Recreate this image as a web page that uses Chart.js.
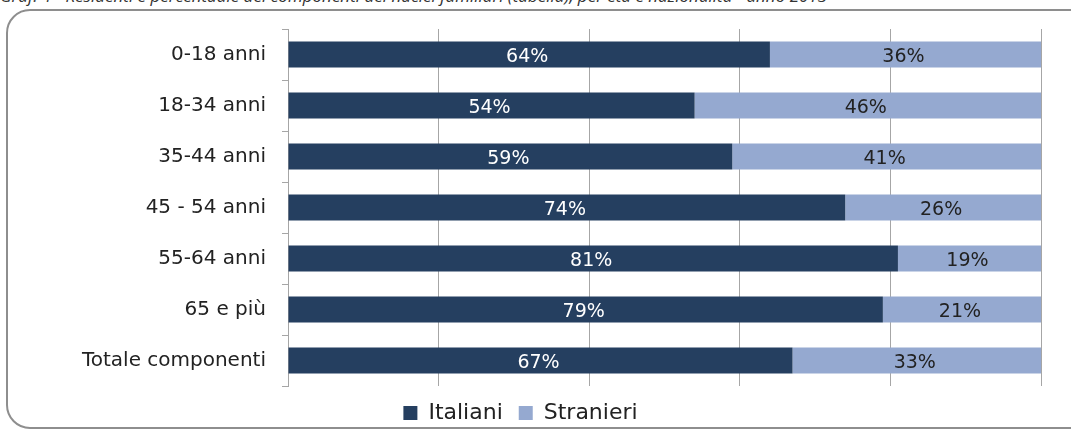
<!DOCTYPE html>
<html>
<head>
<meta charset="utf-8">
<script src="https://cdn.jsdelivr.net/npm/chart.js@4/dist/chart.umd.min.js"></script>
<style>
  html, body { margin: 0; padding: 0; background: #fff; }
  #wrap { position: relative; width: 1071px; height: 429px; overflow: hidden; }
  #frame {
    position: absolute; left: 6px; top: 9px; width: 1090px; height: 420px;
    border: 2px solid #8e8e8e; border-radius: 24px; box-sizing: border-box;
  }
  #cap {
    position: absolute; left: 0; top: -16px; white-space: nowrap;
    font: italic 17px "Open Sans", sans-serif; color: #333;
  }
  canvas { position: absolute; left: 0; top: 0; }
</style>
</head>
<body>
<div id="wrap">
  <div id="cap">Graf. 4 - Residenti e percentuale dei componenti dei nuclei familiari (tabella), per età e nazionalità - anno 2013</div>
  <div id="frame"></div>
  <canvas id="ageChart" width="1071" height="429"></canvas>
</div>
<script>
const categories = ["0-18 anni", "18-34 anni", "35-44 anni", "45 - 54 anni", "55-64 anni", "65 e più", "Totale componenti"];
const italiani = [64, 54, 59, 74, 81, 79, 67];
const stranieri = [36, 46, 41, 26, 19, 21, 33];
const xTicks = [0, 20, 40, 60, 80, 100];

// etichette percentuali al centro di ogni segmento
const barLabels = {
    id: "barLabels",
    afterDatasetsDraw(chart) {
        const ctx = chart.ctx;
        ctx.save();
        ctx.font = "19px 'DejaVu Sans'";
        ctx.textAlign = "center";
        ctx.textBaseline = "middle";
        chart.data.datasets.forEach(function (ds, i) {
            const meta = chart.getDatasetMeta(i);
            ctx.fillStyle = i === 0 ? "#ffffff" : "#222222";
            meta.data.forEach(function (bar, j) {
                const p = bar.getProps(["x", "y", "base"], true);
                ctx.fillText(ds.data[j] + "%", (p.x + p.base) / 2 - 2, p.y + 3);
            });
        });
        ctx.restore();
    }
};

document.addEventListener("DOMContentLoaded", function () {
    const ctx = document.getElementById("ageChart").getContext("2d");
    new Chart(ctx, {
        type: "bar",
        data: {
            labels: categories,
            datasets: [
                { label: "Italiani", data: italiani, backgroundColor: "#253f60", categoryPercentage: 0.51, barPercentage: 1.0 },
                { label: "Stranieri", data: stranieri, backgroundColor: "#95a9d0", categoryPercentage: 0.51, barPercentage: 1.0 }
            ]
        },
        options: {
            indexAxis: "y",
            responsive: false,
            animation: false,
            devicePixelRatio: 1,
            layout: { padding: { top: 29, right: 30, left: 0, bottom: -5 } },
            scales: {
                x: {
                    stacked: true,
                    min: 0,
                    max: 100,
                    afterBuildTicks(scale) { scale.ticks = xTicks.map(v => ({ value: v })); },
                    ticks: { display: false },
                    grid: { color: "#a6a6a6", lineWidth: 1, drawTicks: false },
                    border: { display: false }
                },
                y: {
                    stacked: true,
                    afterFit(scale) { scale.width = 288; },
                    ticks: { color: "#222222", font: { family: "DejaVu Sans", size: 20 }, padding: 16 },
                    grid: { offset: true, drawOnChartArea: false, tickLength: 6, color: "#a6a6a6" },
                    border: { color: "#a6a6a6" }
                }
            },
            plugins: {
                legend: {
                    position: "bottom",
                    labels: {
                        boxWidth: 14, boxHeight: 14, padding: 16,
                        color: "#222222",
                        font: { family: "DejaVu Sans", size: 22 }
                    }
                },
                tooltip: { enabled: false }
            }
        },
        plugins: [barLabels]
    });
});
</script>
</body>
</html>
